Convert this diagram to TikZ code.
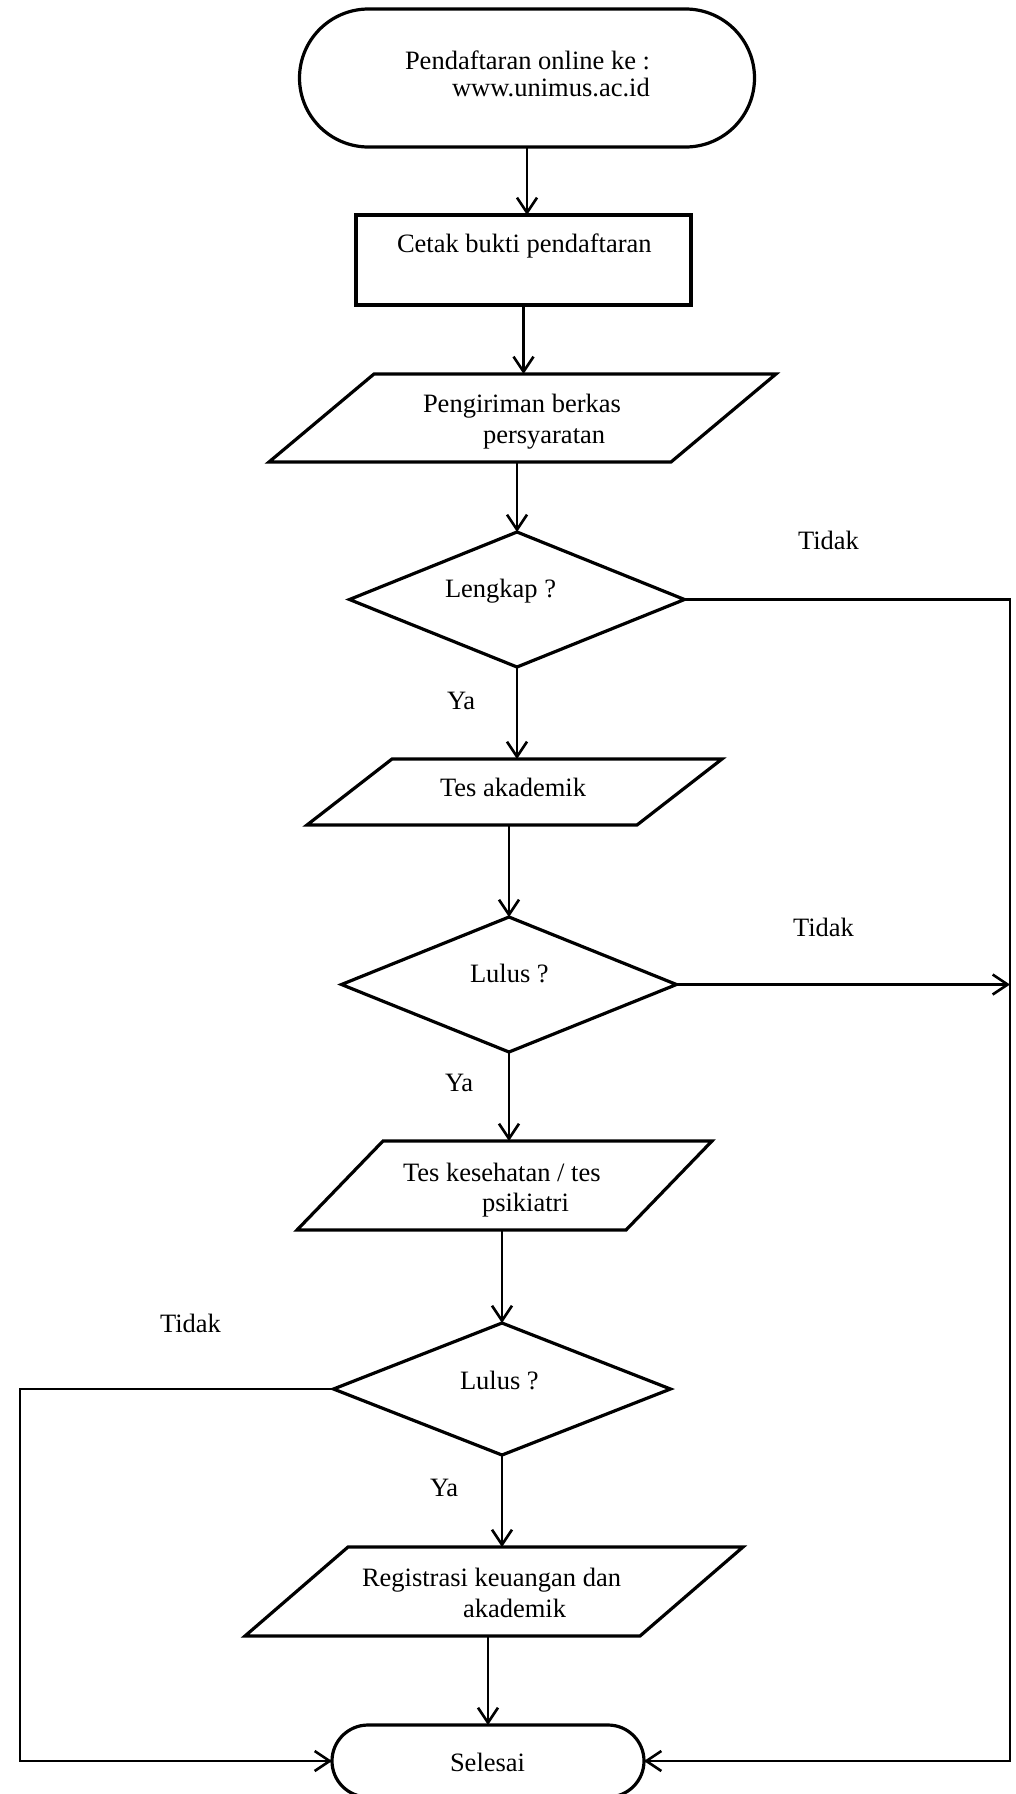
\documentclass[tikz,border=0pt]{standalone}
\usepackage{fontspec}
\setmainfont{Liberation Serif}
\usetikzlibrary{shapes.geometric,shapes.misc,arrows.meta}
\newcommand{\tx}[3]{\makebox[0pt][l]{\hspace*{#1pt}\raisebox{#2pt}[0pt][0pt]{#3}}}
\newcommand{\paraline}[2]{\draw[outline] ([xshift=#2pt]#1.north west) -- (#1.north east) -- ([xshift=-#2pt]#1.south east) -- (#1.south west) -- cycle;}
\begin{document}
\begin{tikzpicture}[x=1pt,y=1pt,
  every node/.style={font=\fontsize{26.5}{30}\selectfont, inner sep=0pt, outer sep=0pt},
  outline/.style={draw=black, line width=3.2pt, line join=miter},
  conn/.style={draw=black, line width=2.6pt, -{Straight Barb[length=15pt,width=20pt]}},
  term/.style={rounded rectangle, outline},
  procbox/.style={rectangle, outline},
  dec/.style={diamond, outline},
  pbox/.style={rectangle},
  lbl/.style={anchor=base west}]

\useasboundingbox (0,0) rectangle (1015,-1794);
\fill[white] (0,0) rectangle (1015,-1794);

% shapes
\node[term, minimum width=455pt, minimum height=138pt] (start) at (527,-78)
  {\tx{-122}{9}{Pendaftaran online ke :}\tx{-75}{-18}{www.unimus.ac.id}};
\node[procbox, minimum width=335pt, minimum height=90pt] (cetak) at (523.5,-260)
  {\tx{-126.5}{8}{Cetak bukti pendaftaran}};
\node[pbox, minimum width=507pt, minimum height=88pt] (kirim) at (522.5,-418)
  {\tx{-99.5}{6}{Pengiriman berkas}\tx{-39.5}{-25}{persyaratan}};
\paraline{kirim}{105}
\node[dec, minimum width=335pt, minimum height=135pt] (lengkap) at (517,-599.5)
  {\tx{-72}{2.5}{Lengkap ?}};
\node[pbox, minimum width=415pt, minimum height=66pt] (tesak) at (514.5,-792)
  {\tx{-74.5}{-4}{Tes akademik}};
\paraline{tesak}{85}
\node[dec, minimum width=335pt, minimum height=135pt] (lulusA) at (509,-984.5)
  {\tx{-39}{2.5}{Lulus ?}};
\node[pbox, minimum width=415pt, minimum height=89pt] (tesks) at (504.5,-1185.5)
  {\tx{-101.5}{4.5}{Tes kesehatan / tes}\tx{-22.5}{-25.5}{psikiatri}};
\paraline{tesks}{86}
\node[dec, minimum width=337pt, minimum height=132pt] (lulusB) at (502,-1389)
  {\tx{-42}{0}{Lulus ?}};
\node[pbox, minimum width=498pt, minimum height=89pt] (regis) at (494,-1591.5)
  {\tx{-132}{5.5}{Registrasi keuangan dan}\tx{-31}{-25.5}{akademik}};
\paraline{regis}{103}
\node[term, minimum width=312pt, minimum height=72pt] (selesai) at (488,-1761)
  {\tx{-38}{-10}{Selesai}};

% labels
\node[lbl] (tidakA) at (798,-549) {Tidak};
\node[lbl] (yaA) at (447,-709) {Ya};
\node[lbl] (tidakB) at (793,-936) {Tidak};
\node[lbl] (yaB) at (445,-1091) {Ya};
\node[lbl] (tidakC) at (160,-1332) {Tidak};
\node[lbl] (yaC) at (430,-1496) {Ya};

% connectors
\coordinate (rx) at (1010,0);
\coordinate (lx) at (20,0);
\draw[conn] (start.south) -- (start.south |- cetak.north);
\draw[conn] (cetak.south) -- (cetak.south |- kirim.north);
\draw[conn] (lengkap.north |- kirim.south) -- (lengkap.north);
\draw[conn] (lengkap.south) -- (lengkap.south |- tesak.north);
\draw[conn] (lulusA.north |- tesak.south) -- (lulusA.north);
\draw[conn] (lulusA.south) -- (lulusA.south |- tesks.north);
\draw[conn] (lulusB.north |- tesks.south) -- (lulusB.north);
\draw[conn] (lulusB.south) -- (lulusB.south |- regis.north);
\draw[conn] (selesai.north |- regis.south) -- (selesai.north);
\draw[conn] (lengkap.east) -- (lengkap.east -| rx) |- (selesai.east);
\draw[conn] (lulusA.east) -- (lulusA.east -| rx);
\draw[conn] (lulusB.west) -- (lulusB.west -| lx) |- (selesai.west);
\end{tikzpicture}
\end{document}
